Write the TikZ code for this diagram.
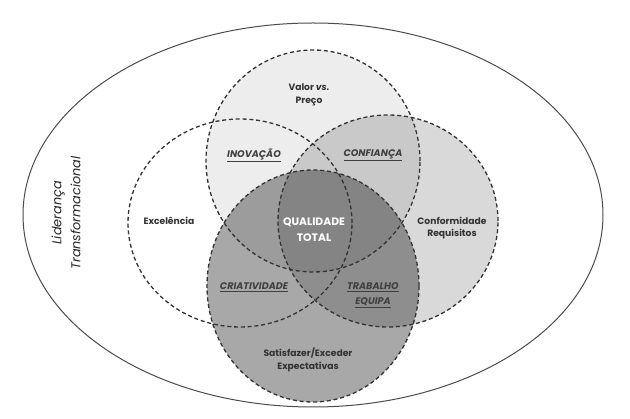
\documentclass[tikz,border=0pt]{standalone}
\usepackage{fontspec}
\setmainfont{Poppins}
\begin{document}
\begin{tikzpicture}[x=1pt,y=-1pt,
  venn/.style={draw=black!80, line width=1.3pt, dash pattern=on 4pt off 2.8pt},
  lbl/.style={font=\fontsize{9.2}{12.5}\selectfont\bfseries, align=center, text=black!80, inner sep=0pt},
  ulbl/.style={font=\fontsize{9.6}{15}\selectfont\bfseries\itshape, align=center, text=black!75, inner sep=0pt},
  qlbl/.style={font=\fontsize{10.8}{16}\selectfont\bfseries, align=center, text=white, inner sep=0pt}]
\useasboundingbox[fill=white] (0,0) rectangle (630,419);
% outer ellipse
\draw[black!70, line width=1pt] (313,215) ellipse [x radius=290pt, y radius=192pt];
% fills
\fill[black, fill opacity=0.07] (313,161) ellipse [x radius=107pt, y radius=111pt];
\fill[black, fill opacity=0.15] (388,221) ellipse [x radius=110pt, y radius=106pt];
\fill[black, fill opacity=0.34] (313,286) ellipse [x radius=106pt, y radius=116pt];
% outlines
\draw[venn] (240,223) ellipse [x radius=112pt, y radius=104pt];
\draw[venn] (313,161) ellipse [x radius=107pt, y radius=111pt];
\draw[venn] (388,221) ellipse [x radius=110pt, y radius=106pt];
\draw[venn] (313,286) ellipse [x radius=106pt, y radius=116pt];
% labels
\node[lbl] (valor) at (309,95) {Valor \textit{vs.}\\Preço};
\node[lbl] (exc) at (169,221) {Excelência};
\node[lbl] (conf) at (452,228) {Conformidade\\Requisitos};
\node[lbl] (sat) at (308,360) {Satisfazer/Exceder\\Expectativas};
\node[ulbl] (inov) at (254,155) {\underline{INOVAÇÃO}};
\node[ulbl] (confi) at (373,155) {\underline{CONFIANÇA}};
\node[ulbl] (cria) at (254,287) {\underline{CRIATIVIDADE}};
\node[ulbl] (trab) at (373,295) {\underline{TRABALHO}\\\underline{EQUIPA}};
\node[qlbl] (qual) at (314,230) {QUALIDADE\\TOTAL};
\node[font=\fontsize{12.8}{19}\selectfont\itshape, align=center, text=black!85, rotate=90, inner sep=0pt] (lid) at (66,213) {Liderança\\Transformacional};
\end{tikzpicture}
\end{document}
